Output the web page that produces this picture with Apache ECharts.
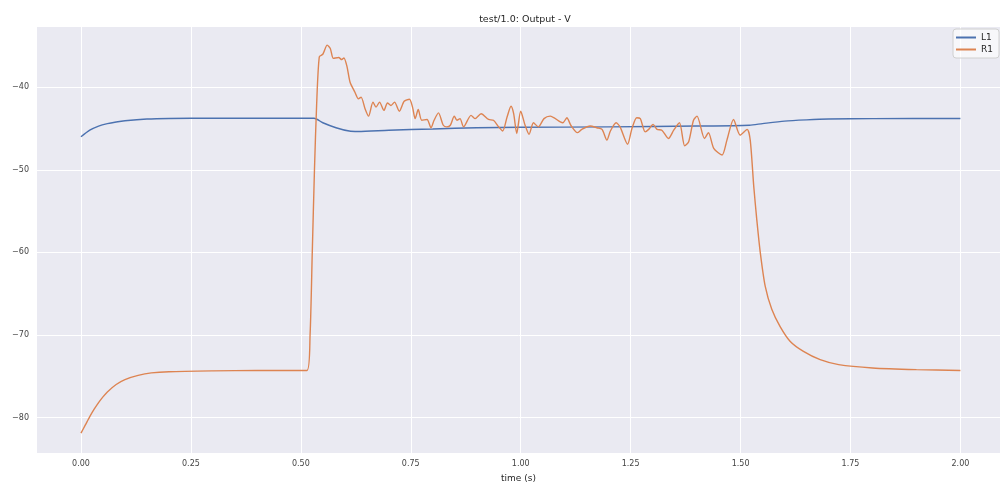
<!DOCTYPE html>
<html>
<head>
<meta charset="utf-8">
<script src="https://cdn.jsdelivr.net/npm/echarts@6/dist/echarts.min.js"></script>
<style>
  html, body { margin: 0; padding: 0; background: #fff; }
  #chart { width: 1001px; height: 484px; }
</style>
</head>
<body>
<div id="chart"></div>
<script>
var xTicks = [0, 0.25, 0.5, 0.75, 1.0, 1.25, 1.5, 1.75, 2.0];
var yTicks = [-80, -70, -60, -50, -40];

var l1Time = [0, 0.02, 0.04, 0.06, 0.08, 0.1, 0.15, 0.2, 0.3, 0.53, 0.55, 0.58, 0.61, 0.63, 0.7, 0.8, 0.9, 1.0, 1.2, 1.4, 1.52, 1.55, 1.6, 1.65, 1.7, 1.8, 2.0];
var l1Vals = [-46.0, -45.2, -44.7, -44.4, -44.2, -44.05, -43.85, -43.78, -43.75, -43.75, -44.3, -44.9, -45.3, -45.35, -45.2, -45.05, -44.9, -44.85, -44.8, -44.7, -44.6, -44.4, -44.1, -43.95, -43.85, -43.8, -43.78];

var r1Time = [0, 0.01, 0.02, 0.03, 0.04, 0.05, 0.06, 0.08, 0.1, 0.13, 0.16, 0.2, 0.3, 0.4,
  0.514, 0.521, 0.526, 0.531, 0.536, 0.542, 0.55, 0.56, 0.567, 0.574, 0.586, 0.593, 0.598, 0.605,
  0.612, 0.623, 0.631, 0.637, 0.646, 0.654, 0.664, 0.671, 0.679, 0.689, 0.697, 0.705, 0.713, 0.724,
  0.735, 0.747, 0.754, 0.760, 0.767, 0.775, 0.787, 0.796, 0.803, 0.813, 0.824, 0.832, 0.840, 0.849,
  0.855, 0.862, 0.870, 0.887, 0.896, 0.910, 0.927, 0.938, 0.950, 0.959, 0.969, 0.978, 0.984, 0.991,
  1.0, 1.010, 1.019, 1.029, 1.04, 1.053, 1.067, 1.09, 1.096, 1.105, 1.114, 1.129, 1.139, 1.158,
  1.173, 1.185, 1.196, 1.204, 1.217, 1.226, 1.243, 1.253, 1.264, 1.272, 1.283, 1.291, 1.301, 1.310,
  1.321, 1.336, 1.348, 1.361, 1.373, 1.382, 1.393, 1.401, 1.418, 1.427, 1.439, 1.458, 1.469, 1.484,
  1.499, 1.515, 1.522, 1.530, 1.537, 1.545, 1.556, 1.571, 1.59, 1.613, 1.643, 1.681, 1.723, 1.8, 1.9, 2.0];
var r1Vals = [-81.9, -80.9, -79.9, -79.0, -78.2, -77.5, -76.9, -76.0, -75.4, -74.9, -74.6, -74.45, -74.35, -74.3,
  -74.3, -70.0, -60.0, -50.0, -42.0, -36.3, -36.0, -34.9, -35.3, -36.5, -36.4, -36.65, -36.45, -37.5,
  -39.4, -40.6, -41.4, -41.2, -42.6, -43.5, -41.8, -42.4, -41.8, -42.8, -41.9, -42.2, -41.8, -42.9,
  -41.7, -41.45, -42.4, -43.8, -42.7, -44.0, -43.9, -44.9, -44.0, -43.1, -44.6, -44.8, -44.6, -43.5,
  -44.0, -43.8, -44.8, -43.4, -43.8, -43.2, -43.9, -44.0, -44.8, -45.3, -43.6, -42.3, -43.2, -45.6,
  -42.9, -44.6, -45.7, -44.3, -44.8, -43.8, -43.5, -44.2, -44.3, -43.7, -44.6, -45.5, -45.1, -44.7,
  -44.9, -45.1, -46.4, -45.3, -44.3, -44.8, -46.9, -45.0, -43.7, -43.8, -45.4, -45.1, -44.5, -45.1,
  -45.2, -46.2, -45.2, -44.3, -47.1, -46.6, -44.0, -43.5, -46.2, -45.5, -47.4, -48.2, -46.4, -43.9,
  -45.8, -45.1, -46.4, -52.0, -56.1, -60.1, -64.1, -66.9, -69.0, -70.8, -72.0, -73.0, -73.6, -74.0, -74.2, -74.3];

function pairs(ts, vs) {
    var out = [];
    for (var i = 0; i < ts.length; i++) {
        out.push([ts[i], vs[i]]);
    }
    return out;
}

var fontFam = 'DejaVu Sans';
var chart = echarts.init(document.getElementById('chart'));

var option = {
    animation: false,
    backgroundColor: '#ffffff',
    title: {
        text: 'test/1.0: Output - V',
        left: 520,
        top: 10,
        textAlign: 'center',
        textStyle: { fontFamily: fontFam, fontSize: 9.5, fontWeight: 'normal', color: '#262626' }
    },
    legend: {
        orient: 'vertical',
        right: 2,
        top: 29,
        data: ['L1', 'R1'],
        icon: 'rect',
        itemWidth: 20,
        itemHeight: 2,
        itemGap: 3,
        padding: [4, 6, 4, 3],
        backgroundColor: 'rgba(255,255,255,0.6)',
        borderColor: '#d0d0d0',
        borderWidth: 1,
        borderRadius: 3,
        textStyle: { fontFamily: fontFam, fontSize: 9, color: '#262626' }
    },
    grid: {
        left: 37,
        right: 1,
        top: 27,
        bottom: 31,
        outerBoundsMode: 'none',
        containLabel: false,
        show: true,
        backgroundColor: '#EAEAF2',
        borderWidth: 0
    },
    xAxis: {
        type: 'value',
        min: -0.1,
        max: 2.09,
        name: 'time (s)',
        nameLocation: 'middle',
        nameGap: 21,
        nameTextStyle: { fontFamily: fontFam, fontSize: 9, color: '#262626' },
        axisLine: { show: false },
        axisTick: { show: false, customValues: xTicks },
        axisLabel: {
            customValues: xTicks,
            margin: 7,
            fontFamily: fontFam,
            fontSize: 8,
            color: '#444',
            formatter: function (v) { return v.toFixed(2); }
        },
        splitLine: { show: true, lineStyle: { color: '#ffffff', width: 1 } }
    },
    yAxis: {
        type: 'value',
        min: -84.3,
        max: -32.7,
        axisLine: { show: false },
        axisTick: { show: false, customValues: yTicks },
        axisLabel: {
            customValues: yTicks,
            margin: 8,
            fontFamily: fontFam,
            fontSize: 8,
            color: '#444',
            formatter: function (v) { return String(v).replace('-', '\u2212'); }
        },
        splitLine: { show: true, lineStyle: { color: '#ffffff', width: 1 } }
    },
    series: [{
        name: 'L1',
        type: 'line',
        data: pairs(l1Time, l1Vals),
        symbol: 'none',
        smooth: 0.25,
        itemStyle: { color: '#4C72B0' },
        lineStyle: { color: '#4C72B0', width: 1.4 }
    }, {
        name: 'R1',
        type: 'line',
        data: pairs(r1Time, r1Vals),
        symbol: 'none',
        smooth: 0.25,
        itemStyle: { color: '#DD8452' },
        lineStyle: { color: '#DD8452', width: 1.4 }
    }]
};
chart.setOption(option);
</script>
</body>
</html>
